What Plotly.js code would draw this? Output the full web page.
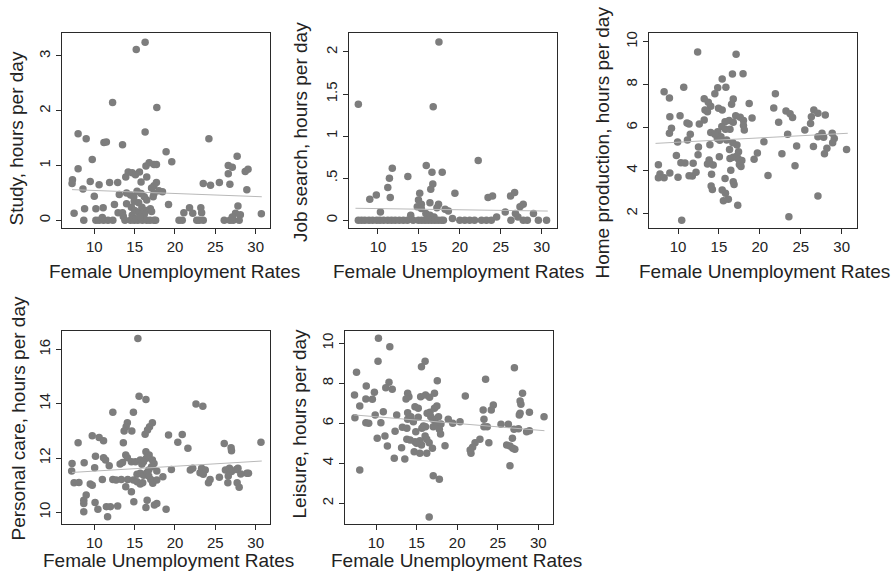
<!DOCTYPE html>
<html>
<head>
<meta charset="utf-8">
<script src="https://cdn.plot.ly/plotly-3.0.1.min.js"></script>
<style>html,body{margin:0;padding:0;background:#fff;}#chart{width:895px;height:579px;}</style>
</head>
<body>
<div id="chart"></div>
<script>
// ---------- data: [female unemployment rate, hours per day] ----------
const studyPoints = [[16.3,3.25],[15.2,3.12],[12.27,2.15],[17.75,2.06],[8.0,1.58],[9.0,1.49],[11.2,1.42],[11.5,1.43],[13.5,1.38],[16.3,1.61],[24.2,1.49],[18.9,1.25],[19.6,1.07],[9.75,1.11],[8.0,0.94],[7.3,0.74],[7.25,0.67],[9.5,0.71],[8.6,0.57],[10.6,0.65],[10.0,0.44],[11.9,0.69],[12.9,0.69],[13.9,0.79],[14.2,0.88],[14.7,0.87],[15.1,0.83],[15.6,0.88],[16.4,0.99],[16.8,1.05],[17.4,1.02],[17.7,1.02],[16.5,0.79],[15.8,0.70],[17.7,0.69],[17.4,0.63],[17.1,0.59],[18.0,0.54],[18.45,0.52],[14.0,0.50],[13.1,0.47],[14.5,0.46],[14.9,0.43],[14.95,0.35],[15.3,0.53],[15.8,0.49],[16.2,0.43],[16.5,0.37],[17.4,0.49],[17.3,0.43],[19.2,0.29],[14.0,0.30],[14.6,0.24],[15.0,0.18],[15.5,0.15],[15.9,0.24],[16.4,0.18],[16.95,0.21],[17.1,0.16],[15.5,0.32],[12.5,0.29],[11.1,0.23],[10.2,0.21],[8.8,0.21],[7.5,0.13],[12.95,0.14],[13.5,0.14],[16.2,0.11],[21.8,0.23],[22.2,0.13],[21.1,0.14],[23.2,0.23],[23.3,0.14],[27.8,0.26],[27.5,0.13],[28.1,0.10],[30.7,0.12],[8.7,0],[10.2,0],[10.6,0],[11.15,0],[11.7,0],[12.3,0],[13.8,0],[14.5,0],[14.95,0],[15.4,0],[15.95,0],[16.5,0],[16.9,0],[17.4,0],[17.6,0],[20.5,0],[20.9,0],[22.7,0],[23.0,0],[23.5,0],[26.1,0],[26.8,0],[27.2,0],[27.95,0],[23.5,0.67],[24.4,0.64],[25.5,0.69],[26.6,1.0],[27.1,0.97],[27.7,1.17],[26.6,0.85],[26.8,0.66],[28.7,0.89],[29.05,0.93],[28.9,0.56],[27.1,0.06],[11.0,0.05],[14.7,0.09],[15.2,0.03],[15.7,0.06],[13.6,0.07]];

const jobPoints = [[17.45,2.12],[7.6,1.38],[16.75,1.35],[22.25,0.71],[15.9,0.65],[11.75,0.62],[16.6,0.57],[17.85,0.57],[13.65,0.52],[11.4,0.50],[16.7,0.43],[16.45,0.37],[11.2,0.39],[9.0,0.25],[9.8,0.30],[11.5,0.27],[15.1,0.32],[14.95,0.24],[15.3,0.19],[16.35,0.21],[17.4,0.19],[17.2,0.15],[18.2,0.13],[14.8,0.16],[15.3,0.14],[19.4,0.32],[23.45,0.27],[24.0,0.29],[26.2,0.29],[26.7,0.33],[27.35,0.16],[27.75,0.19],[27.1,0.04],[26.8,0.08],[29.0,0.08],[25.55,0.10],[10.3,0.10],[18.6,0.11],[14.0,0.06],[15.85,0.08],[16.35,0.06],[16.85,0.04],[19.1,0.02],[24.5,0.04],[7.6,0],[8.0,0],[8.4,0],[8.9,0],[9.35,0],[9.85,0],[10.25,0],[10.7,0],[11.2,0],[11.65,0],[12.1,0],[12.6,0],[13.1,0],[13.6,0],[14.3,0],[14.95,0],[15.35,0],[15.75,0],[16.15,0],[16.55,0],[16.95,0],[17.35,0],[17.75,0],[18.0,0],[20.0,0],[20.6,0],[21.2,0],[21.8,0],[22.65,0],[23.25,0],[23.85,0],[26.25,0],[27.75,0],[28.25,0],[29.6,0],[30.6,0]];

const homePoints = [[12.4,9.52],[17.1,9.41],[16.65,8.50],[17.95,8.51],[15.4,8.26],[15.85,7.88],[14.85,7.86],[10.7,7.88],[8.3,7.67],[8.95,7.38],[14.5,7.58],[13.2,7.35],[13.7,7.18],[16.75,7.33],[18.7,7.12],[14.0,7.0],[16.55,7.09],[21.9,7.58],[21.7,6.91],[23.2,6.78],[23.7,6.65],[24.0,6.47],[26.6,6.82],[27.1,6.67],[26.3,6.51],[26.2,6.2],[28.0,6.59],[13.3,6.82],[13.6,6.74],[14.95,6.90],[15.4,6.82],[9.0,6.51],[9.2,5.97],[8.95,5.74],[10.25,6.56],[13.2,6.36],[12.6,6.17],[11.1,6.22],[11.35,6.17],[11.5,5.69],[11.15,5.43],[9.95,5.33],[12.5,5.1],[12.45,4.74],[9.8,4.71],[19.05,6.45],[17.05,6.56],[17.6,6.48],[18.0,6.33],[18.0,6.1],[18.1,5.89],[15.75,6.28],[16.25,6.33],[16.75,6.25],[15.35,6.05],[15.8,5.93],[16.35,5.93],[14.85,5.81],[15.25,5.58],[14.8,5.5],[15.1,5.41],[15.95,5.43],[16.7,5.3],[17.2,5.19],[17.4,4.88],[13.9,5.21],[16.3,4.99],[15.05,4.65],[16.35,4.57],[16.75,4.62],[17.2,4.68],[17.4,4.53],[17.5,4.29],[17.7,4.19],[17.8,4.47],[19.3,4.53],[19.7,4.82],[20.5,5.35],[21.0,3.78],[22.7,4.79],[22.3,6.25],[23.4,5.69],[24.5,5.15],[24.3,4.23],[25.5,5.89],[26.55,5.12],[27.1,5.58],[27.6,5.74],[27.8,5.55],[28.2,5.04],[27.9,4.79],[28.85,5.74],[29.1,5.5],[28.9,5.3],[30.6,4.98],[27.1,2.82],[23.55,1.86],[10.45,1.69],[17.3,2.39],[15.55,2.6],[16.15,2.67],[15.4,3.1],[15.8,2.95],[14.2,3.13],[14.05,3.29],[15.75,3.64],[16.75,3.49],[16.85,3.36],[16.45,4.02],[14.1,3.83],[13.8,4.5],[13.9,4.34],[14.3,4.26],[13.6,4.31],[11.85,4.34],[11.75,3.75],[11.35,3.77],[12.2,3.93],[10.35,4.37],[10.85,4.36],[10.0,3.69],[9.0,3.89],[7.6,4.28],[7.8,3.84],[7.6,3.67],[8.3,3.67],[14.0,5.78],[14.5,5.69]];

const carePoints = [[15.4,16.4],[15.55,14.28],[16.4,14.16],[22.6,13.99],[23.45,13.91],[12.3,13.69],[14.85,13.69],[14.1,13.3],[13.95,13.15],[13.7,13.0],[14.65,13.0],[17.2,13.3],[16.85,13.15],[16.6,13.03],[16.3,12.88],[13.6,12.56],[8.0,12.56],[9.75,12.82],[10.6,12.76],[11.15,12.64],[19.2,12.85],[20.9,12.87],[20.35,12.58],[21.6,12.36],[26.1,12.54],[26.95,12.38],[27.0,12.27],[30.65,12.58],[10.15,12.07],[11.15,12.01],[11.4,11.93],[13.9,12.11],[14.1,12.01],[16.4,12.23],[16.8,12.11],[16.45,11.99],[17.2,11.93],[17.4,11.8],[7.25,11.8],[8.75,11.83],[7.2,11.52],[10.05,11.64],[11.85,11.72],[13.2,11.78],[13.5,11.84],[14.6,11.86],[15.1,11.86],[15.7,11.93],[16.1,11.86],[15.9,11.77],[17.75,11.52],[19.55,11.58],[21.9,11.56],[22.2,11.62],[23.3,11.62],[23.75,11.56],[23.1,11.46],[23.5,11.4],[26.25,11.56],[26.75,11.62],[27.0,11.5],[26.6,11.34],[27.6,11.58],[27.8,11.62],[28.15,11.41],[28.9,11.44],[29.1,11.44],[25.5,11.29],[24.35,11.21],[24.15,11.09],[26.55,11.09],[27.7,11.09],[27.95,10.92],[7.5,11.09],[8.1,11.1],[9.5,11.04],[9.75,11.0],[11.0,11.21],[12.3,11.21],[12.7,11.19],[13.35,11.21],[14.15,11.21],[13.9,10.94],[14.6,10.76],[14.85,11.19],[15.3,11.13],[15.7,11.04],[16.0,11.09],[15.3,11.4],[15.7,11.44],[16.1,11.37],[16.5,11.46],[16.75,11.34],[17.0,11.21],[17.25,11.07],[17.75,11.19],[18.5,11.31],[16.75,11.56],[17.1,11.68],[14.9,10.39],[16.55,10.45],[16.4,10.18],[17.45,10.27],[17.75,10.33],[18.9,10.11],[9.0,10.64],[8.7,10.45],[8.7,10.33],[8.7,10.02],[10.1,10.36],[10.45,10.11],[11.5,10.21],[12.0,10.21],[12.9,10.23],[11.65,9.84]];

const leisurePoints = [[10.3,10.25],[11.7,9.83],[10.25,9.1],[16.05,9.1],[15.6,8.83],[27.05,8.78],[7.6,8.55],[17.55,8.13],[23.5,8.2],[11.6,8.05],[12.0,7.7],[8.8,7.87],[11.2,7.78],[9.8,7.55],[7.35,7.42],[13.9,7.5],[14.05,7.33],[13.7,7.22],[15.5,7.33],[16.1,7.42],[16.6,7.3],[17.2,7.5],[21.0,7.37],[28.05,7.5],[27.75,7.12],[27.85,6.95],[8.75,7.22],[9.55,7.2],[8.0,6.87],[14.8,6.83],[15.2,6.75],[16.65,6.55],[17.2,6.75],[17.5,6.87],[23.2,6.67],[24.45,6.92],[24.2,6.67],[27.75,6.5],[27.65,6.42],[28.9,6.55],[10.9,6.58],[9.9,6.42],[7.4,6.28],[12.55,6.42],[10.6,6.03],[8.75,6.03],[9.1,6.0],[13.9,6.53],[14.3,6.33],[13.9,6.2],[15.2,6.3],[14.6,6.08],[16.3,6.5],[16.75,6.33],[17.0,6.2],[17.7,6.33],[17.4,6.0],[17.05,5.83],[15.85,5.87],[16.1,5.83],[15.65,5.75],[18.0,5.97],[17.8,5.7],[17.95,5.47],[18.9,6.2],[19.45,6.0],[20.35,6.08],[23.3,6.2],[23.7,5.83],[23.3,5.83],[25.4,5.95],[26.3,5.95],[27.55,5.73],[28.9,5.63],[28.55,5.58],[27.0,5.7],[30.7,6.33],[13.25,5.8],[13.8,5.75],[12.35,5.6],[11.1,5.37],[10.15,5.25],[14.9,5.58],[16.05,5.37],[16.25,5.2],[16.55,5.03],[15.4,5.13],[15.6,4.92],[13.8,5.2],[14.2,5.17],[14.8,5.08],[15.0,5.0],[14.7,4.58],[15.4,4.5],[16.25,4.5],[16.95,4.75],[18.5,4.88],[11.4,4.87],[13.15,4.78],[12.25,4.25],[13.55,4.22],[22.2,5.03],[21.9,4.8],[22.8,5.2],[21.7,4.5],[21.6,4.67],[23.9,5.03],[26.1,4.92],[26.5,4.87],[26.85,4.75],[27.1,4.7],[26.8,5.25],[26.5,3.88],[8.0,3.67],[17.05,3.38],[17.8,3.2],[16.55,1.32]];

// fitted lines (values at the two ends of the data range)
const fitX = [7.25, 30.75];
const studyFit = [0.56, 0.43];
const jobFit = [0.143, 0.11];
const homeFit = [5.27, 5.74];
const careFit = [11.47, 11.89];
const leisureFit = [6.42, 5.63];

// tick labels
const xTicks = [10, 15, 20, 25, 30];
const studyTicks = [0, 1, 2, 3];
const jobTicks = [0, 0.5, 1, 1.5, 2];
const jobTickText = ['0', '.5', '1', '1.5', '2'];
const homeTicks = [2, 4, 6, 8, 10];
const careTicks = [10, 12, 14, 16];
const leisureTicks = [2, 4, 6, 8, 10];

const xTitle = 'Female Unemployment Rates';
const yTitles = ['Study, hours per day', 'Job search, hours per day', 'Home production, hours per day',
                 'Personal care, hours per day', 'Leisure, hours per day'];

// ---------- build ----------
const W = 895, H = 579;
const FONT = 'Liberation Sans, Arial, Helvetica, sans-serif';
const DOT = '#7d7d7d', FITC = '#b9b9b9', INK = '#222222';

const panels = [
  {pts: studyPoints, fit: studyFit, box: [62.3, 270, 33.3, 228.3], xr: [6.04, 31.77], yr: [-0.146, 3.414], tv: studyTicks, tt: null},
  {pts: jobPoints, fit: jobFit, box: [349, 556.7, 33.3, 228.3], xr: [6.46, 31.84], yr: [-0.095, 2.222], tv: jobTicks, tt: jobTickText},
  {pts: homePoints, fit: homeFit, box: [649.3, 856.7, 33.3, 228.3], xr: [6.49, 31.84], yr: [1.32, 10.39], tv: homeTicks, tt: null},
  {pts: carePoints, fit: careFit, box: [62.3, 270, 330.7, 524.3], xr: [6.04, 31.77], yr: [9.56, 16.69], tv: careTicks, tt: null},
  {pts: leisurePoints, fit: leisureFit, box: [345, 553.3, 330.7, 524.3], xr: [6.18, 31.84], yr: [0.95, 10.63], tv: leisureTicks, tt: null}
];

const xTitlePos = [[174.9, 271], [458.9, 271], [764.9, 271], [168.9, 560], [456.3, 560]];
const yTitlePos = [[16, 138.5], [300, 132], [602, 142.5], [18, 418.5], [299, 423.5]];

const traces = [];
const layout = {
  width: W, height: H,
  margin: {l: 0, r: 0, t: 0, b: 0},
  paper_bgcolor: '#fff', plot_bgcolor: '#fff',
  showlegend: false,
  font: {family: FONT, size: 15, color: INK},
  annotations: []
};

panels.forEach((p, i) => {
  const n = i === 0 ? '' : String(i + 1);
  const xa = 'x' + n, ya = 'y' + n;
  traces.push({
    type: 'scatter', mode: 'markers', xaxis: xa, yaxis: ya,
    x: p.pts.map(d => d[0]), y: p.pts.map(d => d[1]),
    marker: {color: DOT, size: 7.5, line: {width: 0}},
    hoverinfo: 'skip'
  });
  traces.push({
    type: 'scatter', mode: 'lines', xaxis: xa, yaxis: ya,
    x: fitX, y: p.fit,
    line: {color: FITC, width: 1}, hoverinfo: 'skip'
  });
  const [l, r, t, b] = p.box;
  layout['xaxis' + n] = {
    domain: [l / W, r / W], range: p.xr, anchor: ya,
    showline: true, mirror: true, linecolor: '#2a2a2a', linewidth: 1,
    ticks: 'outside', ticklen: 5, tickcolor: '#2a2a2a', tickwidth: 1,
    tickvals: xTicks, showgrid: false, zeroline: false,
    tickfont: {family: FONT, size: 15, color: INK}
  };
  layout['yaxis' + n] = {
    domain: [1 - b / H, 1 - t / H], range: p.yr, anchor: xa,
    showline: true, mirror: true, linecolor: '#2a2a2a', linewidth: 1,
    ticks: 'outside', ticklen: 5, tickcolor: '#2a2a2a', tickwidth: 1,
    tickvals: p.tv, ticktext: p.tt || p.tv.map(String), tickangle: -90,
    showgrid: false, zeroline: false,
    tickfont: {family: FONT, size: 15, color: INK}
  };
  layout.annotations.push({
    xref: 'paper', yref: 'paper', x: xTitlePos[i][0] / W, y: 1 - xTitlePos[i][1] / H,
    xanchor: 'center', yanchor: 'middle', showarrow: false, text: xTitle,
    font: {family: FONT, size: 19, color: INK}
  });
  layout.annotations.push({
    xref: 'paper', yref: 'paper', x: yTitlePos[i][0] / W, y: 1 - yTitlePos[i][1] / H,
    xanchor: 'center', yanchor: 'middle', showarrow: false, text: yTitles[i], textangle: -90,
    font: {family: FONT, size: 19, color: INK}
  });
});

Plotly.newPlot('chart', traces, layout, {staticPlot: true, displayModeBar: false});
</script>
</body>
</html>
